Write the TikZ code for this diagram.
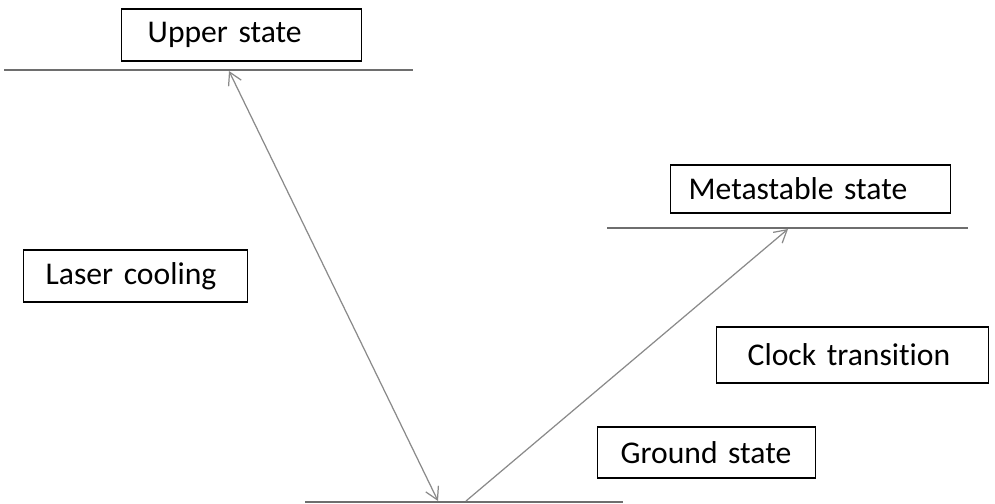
\documentclass[tikz,border=0pt]{standalone}
\usepackage{fontspec}
\setmainfont{Carlito}
\newfontfamily\lblfont{Carlito}[WordSpace={0.55,0,0}, RawFeature={-liga;-clig;-calt}]
\usepackage{xcolor}
\usetikzlibrary{arrows.meta}
\definecolor{lvlline}{HTML}{6E6E6E}
\definecolor{beam}{HTML}{8A8A8A}
\tikzset{
  lvlLine/.style={draw=lvlline, line width=0.9pt},
  lvlBox/.style={draw=black, line width=0.8pt, anchor=west,
    font=\lblfont\fontsize{18}{20}\selectfont, inner ysep=0pt},
  beamArr/.style={draw=beam, line width=0.7pt,
    arrows={-Straight Barb[length=7pt,width=8pt]}},
}
\begin{document}
\begin{tikzpicture}[x=0.02cm, y=-0.02cm]
  \useasboundingbox (0,0) rectangle (995,504);

  % energy levels
  \coordinate (upL) at (4,70);    \coordinate (upR) at (413,70);
  \coordinate (mtL) at (607,228); \coordinate (mtR) at (968,228);
  \coordinate (gdL) at (305,502); \coordinate (gdR) at (623,502);
  \draw[lvlLine] (upL) -- (upR);
  \draw[lvlLine] (mtL) -- (mtR);
  \draw[lvlLine] (gdL) -- (gdR);

  % labels
  \node[lvlBox, inner xsep=0.52cm, text width=3.76cm, minimum height=1.04cm]
    (upper) at (121,35) {\noindent Upper state};
  \node[lvlBox, inner xsep=0.44cm, text width=3.60cm, minimum height=1.04cm]
    (cool) at (23,276) {\noindent Laser cooling};
  \node[lvlBox, inner xsep=0.36cm, text width=4.88cm, minimum height=0.96cm]
    (meta) at (670,189) {\noindent Metastable state};
  \node[lvlBox, inner xsep=0.62cm, text width=4.20cm, minimum height=1.12cm]
    (clock) at (716,355) {\noindent Clock transition};
  \node[lvlBox, inner xsep=0.46cm, text width=3.44cm, minimum height=1.02cm]
    (ground) at (597,452.5) {\noindent Ground state};

  % transitions
  \coordinate (coolTop) at (229,71);
  \coordinate (coolBot) at (438,501);
  \coordinate (clkBot) at (466,501);
  \coordinate (clkTop) at (788,229);
  \draw[beamArr, arrows={Straight Barb[length=7pt,width=8pt]-Straight Barb[length=7pt,width=8pt]}]
    (coolTop) -- (coolBot);
  \draw[beamArr] (clkBot) -- (clkTop);
\end{tikzpicture}
\end{document}
